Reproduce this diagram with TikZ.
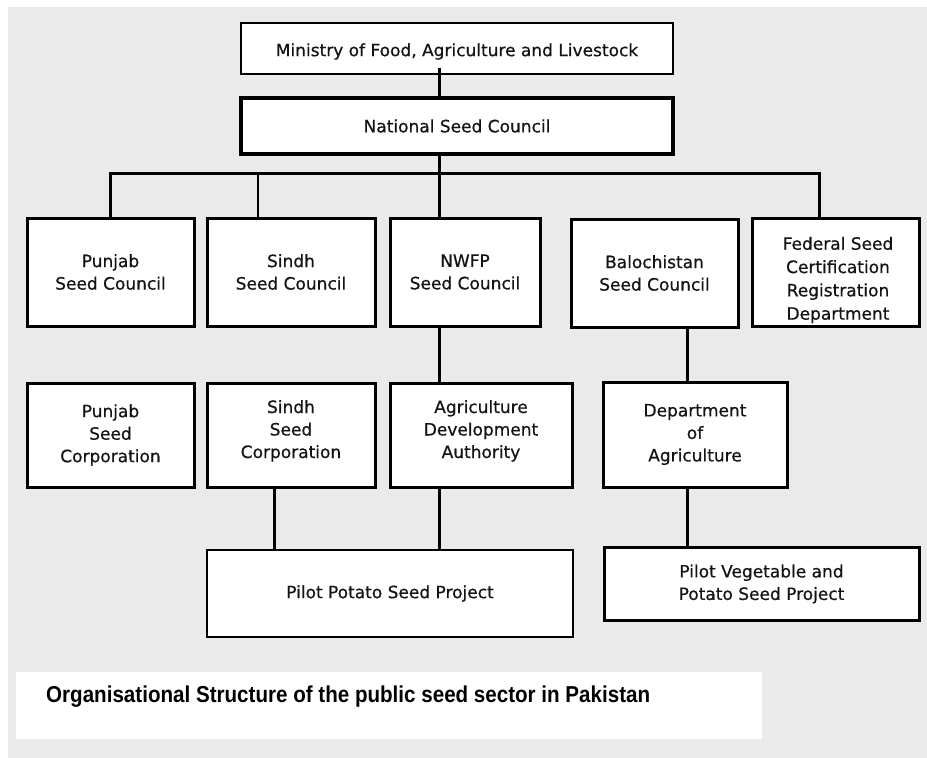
\documentclass[tikz,border=0pt]{standalone}
\usepackage{fontspec}
\setmainfont{DejaVu Sans}
\newfontfamily\boxfont{DejaVu Sans}[FakeBold=0.6]
\newfontfamily\capfont{Liberation Sans}
\usetikzlibrary{calc}
\definecolor{bggray}{RGB}{234,234,234}
\definecolor{inkc}{RGB}{20,20,20}
\newcommand{\upstack}[1]{\raisebox{4pt}[\height][\depth]{\begin{tabular}{@{}c@{}}#1\end{tabular}}}
\begin{document}
\begin{tikzpicture}[x=1pt,y=-1pt,
  box/.style={draw=black, fill=white, line width=3pt, inner sep=0pt, align=center,
    text=inkc, font=\boxfont\fontsize{17}{22.5}\selectfont},
  conn/.style={draw=black, line width=3pt},
  thinconn/.style={draw=black, line width=2.2pt}]
\useasboundingbox (0,0) rectangle (927,758);
\fill[white] (0,0) rectangle (927,758);
\fill[bggray] (8,7) rectangle (927,758);

% top
\node[box, line width=2.5pt, minimum width=432pt, minimum height=51pt] (min) at (457,48.5)
  {\raisebox{-3pt}[\height][\depth]{Ministry of Food, Agriculture and Livestock}};
\node[box, line width=3.5pt, minimum width=432pt, minimum height=56pt] (nsc) at (457,126)
  {National Seed Council};

% row 1
\node[box, minimum width=167pt, minimum height=108pt] (psc) at (110.5,272) {Punjab\\Seed Council};
\node[box, minimum width=168pt, minimum height=108pt] (ssc) at (291,272) {Sindh\\Seed Council};
\node[box, minimum width=150pt, minimum height=108pt] (nwfp) at (465,272) {NWFP\\Seed Council};
\node[box, minimum width=167pt, minimum height=108pt] (bsc) at (654.5,273) {Balochistan\\Seed Council};
\node[box, minimum width=167pt, minimum height=108pt] (fsc) at (835.5,272) {};
\node[fill=white, inner sep=0.5pt, align=center, text=inkc, font=\boxfont\fontsize{17}{23.3}\selectfont] (fsct) at (838,280)
  {Federal Seed\\Certification\\Registration\\Department};

% row 2
\node[box, minimum width=167pt, minimum height=104pt] (pcorp) at (110.5,435) {Punjab\\Seed\\Corporation};
\node[box, minimum width=168pt, minimum height=104pt] (scorp) at (291,435) {\upstack{Sindh\\Seed\\Corporation}};
\node[box, minimum width=182pt, minimum height=104pt] (ada) at (481,435) {\upstack{Agriculture\\Development\\Authority}};
\node[box, minimum width=184pt, minimum height=105pt] (doa) at (695,434.5) {Department\\of\\Agriculture};

% row 3
\node[box, line width=2.5pt, minimum width=366pt, minimum height=87pt] (ppsp) at (390,593.5) {Pilot Potato Seed Project};
\node[box, minimum width=315pt, minimum height=73pt] (pvpsp) at (761.5,584) {Pilot Vegetable and\\Potato Seed Project};

% caption
\node[fill=white, inner sep=0pt, minimum width=746pt, minimum height=67pt] (capbox) at (389,705.5) {};
\node[anchor=west, inner sep=0pt, font=\capfont\bfseries\fontsize{23}{26}\selectfont] (cap) at (46,697)
  {\scalebox{0.895}[1]{Organisational Structure of the public seed sector in Pakistan}};

% connectors
\coordinate (stem) at (439,173);
\coordinate (busL) at (110.5,173);
\coordinate (busR) at (819,173);
\coordinate (sdrop) at (258,173);
\coordinate (sx) at (274,500);
\coordinate (bx) at (687,400);

\draw[conn] ($(stem |- min.south)+(0,-7)$) -- (stem |- nsc.north);
\draw[conn] (stem |- nsc.south) -- (stem);
\draw[conn] (psc.north) -- (busL) -- (busR) -- (busR |- fsc.north);
\draw[thinconn] (sdrop) -- (sdrop |- ssc.north);
\draw[conn] (stem) -- (stem |- nwfp.north);
\draw[conn] (stem |- nwfp.south) -- (stem |- ada.north);
\draw[conn] (stem |- ada.south) -- ($(stem |- ppsp.north)+(0,2)$);
\draw[conn] (sx |- scorp.south) -- ($(sx |- ppsp.north)+(0,2)$);
\draw[conn] (bx |- bsc.south) -- (bx |- doa.north);
\draw[conn] (bx |- doa.south) -- (bx |- pvpsp.north);
\end{tikzpicture}
\end{document}
